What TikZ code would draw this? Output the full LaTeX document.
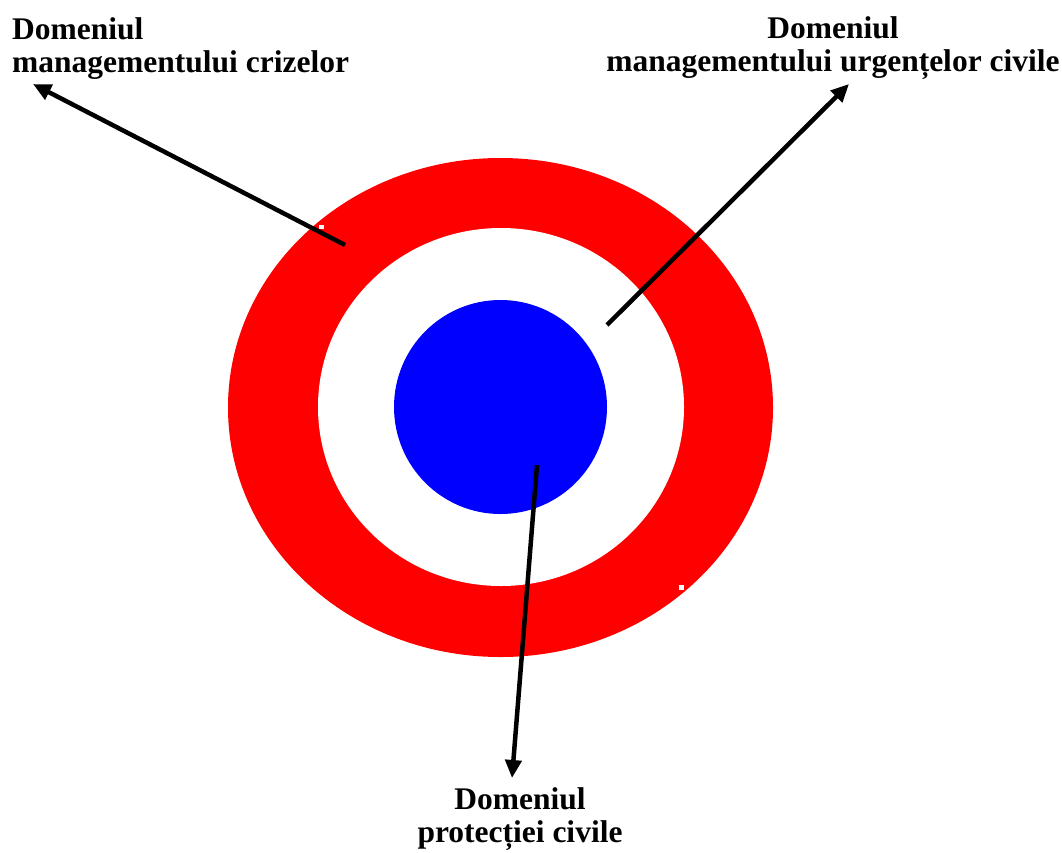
\documentclass[tikz,border=0pt]{standalone}
\usepackage{fontspec}
\setmainfont{Liberation Serif}
\usetikzlibrary{arrows.meta,shapes.geometric}
\definecolor{ringred}{RGB}{255,0,0}
\definecolor{coreblue}{RGB}{0,0,255}
\tikzset{
  lbl/.style={font=\fontsize{31.5}{33}\selectfont\bfseries, inner sep=0pt},
  pointer/.style={line width=4.5pt, -{Triangle[length=18pt,width=16pt]}},
  fleck/.style={fill=white, draw=none}
}
\begin{document}
\begin{tikzpicture}[x=1pt,y=-1pt]
  \useasboundingbox (0,0) rectangle (1062,852);
  % concentric domains
  \node (outer) [ellipse, fill=ringred, minimum width=545pt, minimum height=499pt, inner sep=0pt] at (500.5,407.5) {};
  \node (middle) [ellipse, fill=white, minimum width=366pt, minimum height=358pt, inner sep=0pt] at (501,407) {};
  \node (core) [ellipse, fill=coreblue, minimum width=213pt, minimum height=214pt, inner sep=0pt] at (500.5,407) {};
  % two small white specks on the ring
  \fill[fleck] (318.5,224.5) rectangle (324,229);
  \fill[fleck] (678.5,585) rectangle (684,589.5);
  % captions (base anchor sits on the last line)
  \node (crize) [lbl, anchor=base west, align=left] at (12,72.5) {Domeniul\\managementului crizelor};
  \node (urgente) [lbl, anchor=base, align=center] at (833,71.5) {Domeniul\\managementului urgențelor civile};
  \node (protectie) [lbl, anchor=base, align=center] at (520,842) {Domeniul\\protecției civile};
  % pointer ends
  \coordinate (crizeFrom) at (345,245);
  \coordinate (crizeTo) at (33,84);
  \coordinate (urgFrom) at (607,325);
  \coordinate (urgTo) at (849,84);
  \coordinate (protFrom) at (537,465);
  \coordinate (protTo) at (512,778);
  \draw[pointer] (crizeFrom) -- (crizeTo);
  \draw[pointer] (urgFrom) -- (urgTo);
  \draw[pointer] (protFrom) -- (protTo);
\end{tikzpicture}
\end{document}
